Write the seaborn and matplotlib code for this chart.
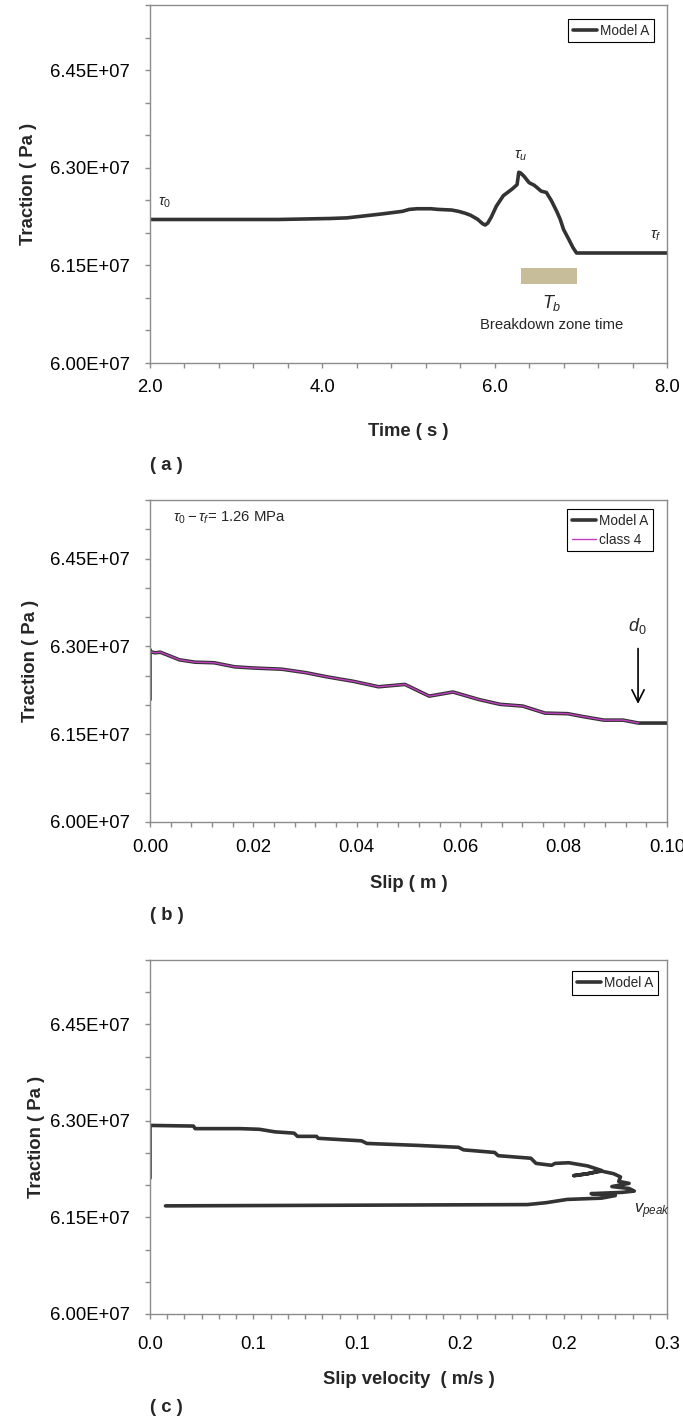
import numpy as np
import pandas as pd
import seaborn as sns
import matplotlib
matplotlib.use('Agg')
import matplotlib.pyplot as plt
from matplotlib.ticker import MultipleLocator, FormatStrFormatter

# (a) traction vs time, MPa
time_s = [2.0, 3.49, 4.09, 4.29, 4.49, 4.69, 4.93, 5.01, 5.10, 5.17, 5.26, 5.34,
          5.50, 5.58, 5.66, 5.72, 5.80, 5.86, 5.89, 5.92, 5.96,
          6.02, 6.10, 6.20, 6.26, 6.28, 6.30, 6.34, 6.40, 6.46, 6.54, 6.60, 6.66,
          6.72, 6.76, 6.80, 6.86, 6.91, 6.95, 8.0]
trac_a = [62.205, 62.205, 62.22, 62.23, 62.26, 62.29, 62.33, 62.36, 62.37, 62.37,
          62.37, 62.36, 62.35, 62.33, 62.30, 62.27, 62.21, 62.14, 62.12, 62.15,
          62.24, 62.41, 62.57, 62.67, 62.74, 62.93, 62.92, 62.87, 62.77,
          62.73, 62.64, 62.62, 62.49, 62.33, 62.21, 62.05, 61.90, 61.77, 61.69, 61.69]
bar_t = [6.30, 6.95]
bar_lo = [61.22, 61.22]
bar_hi = [61.46, 61.46]

# (b) traction vs slip, MPa
slip_m = [0.0, 0.0, 0.0, 0.001, 0.002, 0.0057, 0.0087, 0.0124, 0.0164, 0.0201,
          0.0255, 0.0302, 0.0342, 0.0395, 0.0442, 0.0493, 0.0540, 0.0586, 0.0637,
          0.0677, 0.0721, 0.0764, 0.0808, 0.0838, 0.0878, 0.0915, 0.0945, 0.10]
trac_b = [62.09, 62.94, 62.91, 62.89, 62.90, 62.77, 62.73, 62.72, 62.65, 62.63,
          62.61, 62.55, 62.48, 62.40, 62.31, 62.35, 62.15, 62.22, 62.09, 62.01,
          61.98, 61.86, 61.85, 61.80, 61.74, 61.74, 61.69, 61.69]
class4_slip = slip_m[2:-1]
class4_trac = trac_b[2:-1]

# (c) traction vs slip velocity, MPa
vel = [0.0, 0.0, 0.0252, 0.0262, 0.0423, 0.0523, 0.0634, 0.0725, 0.0836, 0.0856,
       0.0966, 0.0976, 0.1228, 0.1258, 0.155, 0.179, 0.182, 0.200, 0.202, 0.221,
       0.224, 0.233, 0.235, 0.243, 0.254, 0.262, 0.254, 0.246, 0.254, 0.262,
       0.269, 0.273, 0.272, 0.278, 0.268, 0.278, 0.281, 0.274, 0.256, 0.270,
       0.262, 0.242, 0.230, 0.219, 0.009]
trac_c = [62.11, 62.93, 62.92, 62.88, 62.88, 62.88, 62.87, 62.83, 62.81, 62.76,
          62.76, 62.73, 62.69, 62.65, 62.62, 62.59, 62.55, 62.51, 62.46, 62.42,
          62.34, 62.31, 62.34, 62.35, 62.30, 62.23, 62.18, 62.15, 62.18, 62.22,
          62.18, 62.13, 62.06, 62.03, 61.98, 61.95, 61.91, 61.89, 61.87, 61.84,
          61.80, 61.78, 61.73, 61.70, 61.68]

ytick_major = [60.0e6, 61.5e6, 63.0e6, 64.5e6]

sns.set_theme(style='white')
plt.rcParams['font.family'] = ['Liberation Sans', 'DejaVu Sans']
plt.rcParams['mathtext.fontset'] = 'custom'
plt.rcParams['mathtext.rm'] = 'Liberation Sans'
plt.rcParams['mathtext.it'] = 'Liberation Sans:italic'

W, H = 683, 1422
fig = plt.figure(figsize=(W / 100, H / 100), dpi=100)
fig.patch.set_facecolor('white')

def rect(top, bottom):
    return [150 / W, (H - bottom) / H, 517 / W, (bottom - top) / H]

ax_a = fig.add_axes(rect(5, 363))
ax_b = fig.add_axes(rect(500, 822))
ax_c = fig.add_axes(rect(960, 1314))

line_col = '#333333'
axis_col = '#8c8c8c'

def style(ax, xmaj, xmin, xfmt, xpad, ylab_x):
    ax.set_facecolor('white')
    ax.set_ylim(60.0e6, 65.5e6)
    ax.set_yticks(ytick_major)
    ax.yaxis.set_minor_locator(MultipleLocator(0.5e6))
    ax.yaxis.set_major_formatter(FormatStrFormatter('%.2E'))
    ax.xaxis.set_major_locator(MultipleLocator(xmaj))
    ax.xaxis.set_minor_locator(MultipleLocator(xmin))
    ax.xaxis.set_major_formatter(FormatStrFormatter(xfmt))
    for s in ax.spines.values():
        s.set_color(axis_col)
        s.set_linewidth(1.0)
    ax.tick_params(axis='both', which='both', direction='out', color=axis_col,
                   width=1.0, length=3.6, labelsize=13.3, labelcolor='black',
                   bottom=True, left=True)
    ax.tick_params(axis='y', which='major', pad=10.8)
    ax.tick_params(axis='x', which='major', pad=xpad)
    ax.set_ylabel('Traction ( Pa )', fontsize=13.3, fontweight='bold')
    ax.yaxis.set_label_coords(ylab_x, 0.5)
    ax.yaxis.label.set_va('center')
    ax.grid(False)

def legend(ax, x, y):
    lg = ax.legend(loc='upper right', bbox_to_anchor=(x, y), borderaxespad=0,
                   fontsize=9.8, handlelength=1.8, handletextpad=0.2,
                   borderpad=0.35, labelspacing=0.35, fancybox=False,
                   framealpha=1, edgecolor='black')
    lg.get_frame().set_linewidth(0.8)

# ---- (a)
df_a = pd.DataFrame({'t': time_s, 'tr': np.array(trac_a) * 1e6})
sns.lineplot(data=df_a, x='t', y='tr', ax=ax_a, color=line_col, lw=2.6,
             sort=False, estimator=None, label='Model A')
ax_a.fill_between(bar_t, np.array(bar_lo) * 1e6, np.array(bar_hi) * 1e6,
                  color='#c8bd9b', lw=0)
ax_a.set_xlim(2.0, 8.0)
style(ax_a, 2.0, 0.4, '%.1f', 8, -0.235)
ax_a.set_xlabel('Time ( s )', fontsize=13.3, fontweight='bold')
ax_a.xaxis.set_label_coords(0.5, -(432 - 363) / 358)
ax_a.xaxis.label.set_va('center')
legend(ax_a, 0.975, 0.961)
ax_a.text(2.17, 62.46e6, r'$\tau_0$', fontsize=11, ha='center', va='center')
ax_a.text(6.30, 63.18e6, r'$\tau_u$', fontsize=11, ha='center', va='center')
ax_a.text(7.87, 61.95e6, r'$\tau_f$', fontsize=11, ha='center', va='center')
ax_a.text(6.66, 60.92e6, r'$T_b$', fontsize=13, ha='center', va='center')
ax_a.text(6.66, 60.59e6, 'Breakdown zone time', fontsize=10.7, ha='center', va='center')

# ---- (b)
df_b = pd.DataFrame({'s': slip_m, 'tr': np.array(trac_b) * 1e6})
df_b4 = pd.DataFrame({'s': class4_slip, 'tr': np.array(class4_trac) * 1e6})
sns.lineplot(data=df_b, x='s', y='tr', ax=ax_b, color=line_col, lw=2.6,
             sort=False, estimator=None, label='Model A')
sns.lineplot(data=df_b4, x='s', y='tr', ax=ax_b, color='#c23fc2', lw=1.0,
             sort=False, estimator=None, label='class 4')
ax_b.set_xlim(0.0, 0.10)
style(ax_b, 0.02, 0.004, '%.2f', 8.6, -0.232)
ax_b.set_xlabel('Slip ( m )', fontsize=13.3, fontweight='bold')
ax_b.xaxis.set_label_coords(0.5, -(884 - 822) / 322)
ax_b.xaxis.label.set_va('center')
legend(ax_b, 0.973, 0.972)
ax_b.text(0.0044, 65.19e6, r'$\tau_0 - \tau_f$= 1.26 MPa', fontsize=10.7,
          ha='left', va='center')
ax_b.annotate('', xy=(0.0944, 61.97e6), xytext=(0.0944, 63.01e6),
              arrowprops=dict(arrowstyle='->', color='black', lw=1.2,
                              mutation_scale=22))
ax_b.text(0.0942, 63.34e6, r'$d_0$', fontsize=13, ha='center', va='center')

# ---- (c)
df_c = pd.DataFrame({'v': vel, 'tr': np.array(trac_c) * 1e6})
sns.lineplot(data=df_c, x='v', y='tr', ax=ax_c, color=line_col, lw=2.6,
             sort=False, estimator=None, label='Model A')
ax_c.set_xlim(0.0, 0.3)
style(ax_c, 0.06, 0.01, '%.1f', 12, -0.219)
ax_c.set_xlabel('Slip velocity  ( m/s )', fontsize=13.3, fontweight='bold')
ax_c.xaxis.set_label_coords(0.5, -(1379 - 1314) / 354)
ax_c.xaxis.label.set_va('center')
legend(ax_c, 0.983, 0.969)
ax_c.text(0.281, 61.59e6, r'$v_{peak}$', fontsize=12, ha='left', va='center')

for lab, y in [('( a )', 465), ('( b )', 916), ('( c )', 1408)]:
    fig.text(150 / W, 1 - y / H, lab, fontsize=13.3, fontweight='bold',
             ha='left', va='center')

fig.savefig('out.png', dpi=100, facecolor='white')
